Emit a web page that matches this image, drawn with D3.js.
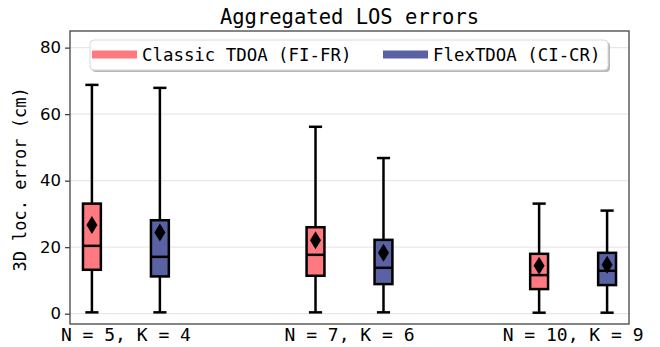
<!DOCTYPE html>
<html>
<head>
<meta charset="utf-8">
<script src="https://cdn.jsdelivr.net/npm/d3@7"></script>
<style>
  body { margin: 0; background: #fff; }
  text { fill: #000; }
</style>
</head>
<body>
<svg width="660" height="347"></svg>
<script>
// groups on the x axis
const groups = ['N = 5, K = 4', 'N = 7, K = 6', 'N = 10, K = 9'];
const seriesNames = ['Classic TDOA (FI-FR)', 'FlexTDOA (CI-CR)'];
const seriesColors = ['#ff7a80', '#5a62a3'];

// box stats per series, one value per group
const classicLow  = [0.4, 0.4, 0.3];
const classicQ1   = [13.2, 11.4, 7.4];
const classicMed  = [20.4, 17.7, 11.6];
const classicQ3   = [33.1, 26.0, 18.0];
const classicHigh = [68.8, 56.2, 33.1];
const classicMean = [26.7, 22.1, 14.4];

const flexLow  = [0.4, 0.4, 0.3];
const flexQ1   = [11.2, 8.9, 8.6];
const flexMed  = [17.1, 13.8, 12.9];
const flexQ3   = [28.1, 22.2, 18.3];
const flexHigh = [67.9, 46.8, 31.0];
const flexMean = [24.4, 18.3, 14.7];

const yTicks = [0, 20, 40, 60, 80];

const svg = d3.select('svg');
const plotL = 70, plotR = 629, plotT = 31, plotB = 324;

const x = d3.scaleLinear().domain([-0.25, 2.25]).range([plotL, plotR]);
const y = d3.scaleLinear().domain([-3.1, 85]).range([plotB, plotT]);

const boxes = [];
groups.forEach((g, i) => {
  boxes.push({g: i, s: 0, lo: classicLow[i], q1: classicQ1[i], med: classicMed[i], q3: classicQ3[i], hi: classicHigh[i], mean: classicMean[i]});
  boxes.push({g: i, s: 1, lo: flexLow[i], q1: flexQ1[i], med: flexMed[i], q3: flexQ3[i], hi: flexHigh[i], mean: flexMean[i]});
});
const off = 0.152, bw = 0.08, cw = 0.05;
const cx = d => x(d.g + (d.s === 0 ? -off : off));
const boxW = x(bw) - x(0), capW = x(cw) - x(0);

// grid
svg.append('g').selectAll('line').data(yTicks).enter().append('line')
  .attr('x1', plotL).attr('x2', plotR)
  .attr('y1', d => y(d)).attr('y2', d => y(d))
  .attr('stroke', '#ece7e4').attr('stroke-width', 1.2);

// title
svg.append('text').attr('x', (plotL + plotR) / 2).attr('y', 24)
  .attr('text-anchor', 'middle')
  .style('font-family', 'DejaVu Sans Mono').style('font-size', '20.5px')
  .text('Aggregated LOS errors');

// y axis
const yAxis = svg.append('g').attr('transform', `translate(${plotL},0)`)
  .call(d3.axisLeft(y).tickValues(yTicks).tickSize(5).tickPadding(4));
yAxis.select('.domain').remove();
yAxis.selectAll('line').attr('stroke', '#333').attr('stroke-width', 1.2);
yAxis.selectAll('text').style('font-family', 'DejaVu Sans').style('font-size', '16.5px');

svg.append('text')
  .attr('transform', `translate(26,${(plotT + plotB) / 2 + 2}) rotate(-90)`)
  .attr('text-anchor', 'middle')
  .style('font-family', 'DejaVu Sans Mono').style('font-size', '17px')
  .text('3D loc. error (cm)');

// x labels
svg.append('g').selectAll('text').data(groups).enter().append('text')
  .attr('x', (d, i) => x(i)).attr('y', 341)
  .attr('text-anchor', 'middle')
  .style('font-family', 'DejaVu Sans Mono').style('font-size', '18px')
  .text(d => d);

// boxes
const b = svg.append('g').selectAll('g').data(boxes).enter().append('g');
b.append('line').attr('x1', cx).attr('x2', cx)
  .attr('y1', d => y(d.lo)).attr('y2', d => y(d.q1))
  .attr('stroke', '#000').attr('stroke-width', 2.5);
b.append('line').attr('x1', cx).attr('x2', cx)
  .attr('y1', d => y(d.q3)).attr('y2', d => y(d.hi))
  .attr('stroke', '#000').attr('stroke-width', 2.5);
['lo', 'hi'].forEach(k => {
  b.append('line')
    .attr('x1', d => cx(d) - capW / 2 - 1).attr('x2', d => cx(d) + capW / 2 + 1)
    .attr('y1', d => y(d[k])).attr('y2', d => y(d[k]))
    .attr('stroke', '#000').attr('stroke-width', 2.5);
});
b.append('rect')
  .attr('x', d => cx(d) - boxW / 2)
  .attr('width', boxW)
  .attr('y', d => y(d.q3)).attr('height', d => y(d.q1) - y(d.q3))
  .attr('fill', d => seriesColors[d.s])
  .attr('stroke', '#000').attr('stroke-width', 2.5);
b.append('line')
  .attr('x1', d => cx(d) - boxW / 2).attr('x2', d => cx(d) + boxW / 2)
  .attr('y1', d => y(d.med)).attr('y2', d => y(d.med))
  .attr('stroke', '#000').attr('stroke-width', 2.5);
b.append('path')
  .attr('d', d => {
    const px = cx(d), py = y(d.mean);
    return `M${px},${py - 9}L${px + 5.5},${py}L${px},${py + 9}L${px - 5.5},${py}Z`;
  })
  .attr('fill', '#000');

// frame
svg.append('rect').attr('x', plotL).attr('y', plotT)
  .attr('width', plotR - plotL).attr('height', plotB - plotT)
  .attr('fill', 'none').attr('stroke', '#444').attr('stroke-width', 1.3);

// legend
const lg = svg.append('g');
lg.append('rect').attr('x', 92).attr('y', 42).attr('width', 518).attr('height', 30)
  .attr('rx', 4).attr('fill', '#b8b8b8');
lg.append('rect').attr('x', 90).attr('y', 40).attr('width', 518).attr('height', 30)
  .attr('rx', 4).attr('fill', '#fff').attr('stroke', '#d8d8d8').attr('stroke-width', 1);
const legendX = [92, 383];
seriesNames.forEach((name, i) => {
  lg.append('rect').attr('x', legendX[i]).attr('y', 50.5).attr('width', 45).attr('height', 8)
    .attr('fill', seriesColors[i]);
  lg.append('text').attr('x', legendX[i] + 50).attr('y', 61)
    .style('font-family', 'DejaVu Sans Mono').style('font-size', '17.4px')
    .text(name);
});
</script>
</body>
</html>
